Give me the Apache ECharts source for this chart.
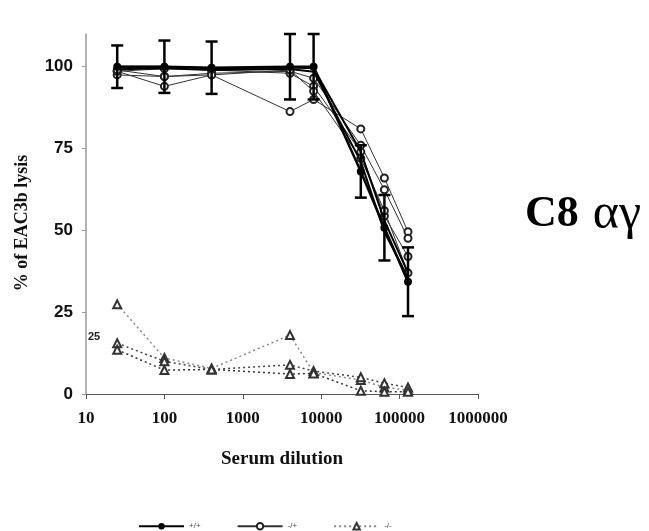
<!DOCTYPE html>
<html>
<head>
<meta charset="utf-8">
<script src="https://cdn.jsdelivr.net/npm/echarts@6/dist/echarts.min.js"></script>
<style>
  html, body { margin: 0; padding: 0; background: #fff; }
  #chart { width: 649px; height: 531px; }
</style>
</head>
<body>
<div id="chart"></div>
<script>
// serum dilutions (log axis)
const dilutions = [25, 100, 400, 4000, 8000, 32000, 64000, 128000];
const yTicks = [0, 25, 50, 75, 100];

// +/+ mean with error bars
const wtMean = [100, 100, 99.7, 100, 100, 68, 50.8, 34.3];
const wtErr = [6.5, 8, 8, 10, 10, 8, 10, 10.5];
// +/+ individual animals
const wtA = [100, 100, 99.5, 99.8, 99.5, 74, 53, 37];
const wtB = [99.2, 99.5, 99, 99.3, 98.5, 71, 49.5, 35.5];

// -/+ animals
const hetA = [98.6, 94, 97.5, 86.3, 90, 81, 66, 49.6];
const hetB = [97.5, 97, 98, 98.6, 96.5, 76, 62.4, 47.6];
const hetC = [98.6, 99.4, 99, 98, 94, 74, 54.4, 42];
const hetD = [99, 97, 97.5, 99, 92.5, 72, 56, 37];

// -/- animals
const koA = [27.4, 11, 7.8, 18, 6.5, 4.3, 2, 1.2];
const koB = [15.5, 10, 7.5, 8.9, 7, 5.1, 3.3, 2];
const koC = [13.5, 7.3, 7.5, 6.1, 6.3, 1.0, 0.7, 0.7];

function pairs(vals) {
  return dilutions.map((d, i) => [d, vals[i]]);
}

function wtLine(vals, width, size) {
  return {
    name: '+/+', type: 'line', data: pairs(vals), symbol: 'circle', symbolSize: size,
    itemStyle: { color: '#000' }, lineStyle: { color: '#000', width: width }, z: 5
  };
}
function hetLine(vals) {
  return {
    name: '-/+', type: 'line', data: pairs(vals), symbol: 'emptyCircle', symbolSize: 7,
    itemStyle: { color: '#222', borderWidth: 1 },
    lineStyle: { color: '#333', width: 1 }, z: 4
  };
}
function koLine(vals, color) {
  return {
    name: '-/-', type: 'line', data: pairs(vals), symbol: 'emptyTriangle', symbolSize: 8,
    itemStyle: { color: '#333', borderWidth: 1 },
    lineStyle: { color: color, width: 1.5, type: [2, 3] }, z: 3
  };
}

const chart = echarts.init(document.getElementById('chart'));
const serif = 'Liberation Serif, Times New Roman, serif';
const sans = 'Liberation Sans, Arial, sans-serif';

chart.setOption({
  animation: false,
  backgroundColor: '#fff',
  grid: { left: 86, right: 171, top: 34, bottom: 137 },
  xAxis: {
    type: 'log', logBase: 10, min: 10, max: 1000000,
    name: 'Serum dilution', nameLocation: 'middle', nameGap: 56,
    nameTextStyle: { fontFamily: serif, fontWeight: 'bold', fontSize: 19, color: '#111' },
    axisLine: { lineStyle: { color: '#555', width: 1 } },
    axisTick: { show: true, length: 5, inside: false, lineStyle: { color: '#555' } },
    minorTick: { show: false },
    splitLine: { show: false },
    axisLabel: {
      margin: 16, fontFamily: serif, fontWeight: 'bold', fontSize: 17, color: '#111',
      formatter: v => String(Math.round(v))
    }
  },
  yAxis: {
    type: 'value', min: 0, max: 110,
    axisLine: { show: true, lineStyle: { color: '#999', width: 1.5 } },
    axisTick: { show: true, length: 4, customValues: yTicks, lineStyle: { color: '#999' } },
    splitLine: { show: false },
    axisLabel: {
      customValues: yTicks, margin: 13, fontFamily: sans, fontWeight: 'bold', fontSize: 17, color: '#111'
    }
  },
  legend: {
    data: ['+/+', '-/+', '-/-'],
    left: 133, top: 517, itemWidth: 45, itemHeight: 8, itemGap: 36,
    textStyle: { fontFamily: sans, fontSize: 8, color: '#444' }
  },
  graphic: [
    {
      type: 'text', left: 525, top: 190,
      style: {
        text: '{b|C8}{n|αγ}',
        rich: {
          b: { fontFamily: serif, fontWeight: 'bold', fontSize: 44, fill: '#000' },
          n: { fontFamily: serif, fontWeight: 'normal', fontSize: 50, fill: '#000', padding: [0, 0, 0, 14] }
        }
      }
    },
    {
      type: 'text', x: 22, y: 223, rotation: Math.PI / 2,
      style: {
        text: '% of EAC3b lysis', fontFamily: serif, fontWeight: 'bold', fontSize: 18,
        fill: '#111', align: 'center', verticalAlign: 'middle'
      }
    },
    {
      type: 'text', left: 88, top: 331,
      style: { text: '25', fontFamily: sans, fontWeight: 'bold', fontSize: 11, fill: '#222' }
    }
  ],
  series: [
    koLine(koA, '#888'),
    koLine(koB, '#444'),
    koLine(koC, '#333'),
    hetLine(hetA),
    hetLine(hetB),
    hetLine(hetC),
    hetLine(hetD),
    wtLine(wtA, 2, 0),
    wtLine(wtB, 2, 0),
    wtLine(wtMean, 2.5, 8),
    {
      name: '+/+', type: 'custom', z: 6,
      data: dilutions.map((d, i) => [d, wtMean[i] - wtErr[i], wtMean[i] + wtErr[i]]),
      renderItem: function (params, api) {
        const lo = api.coord([api.value(0), api.value(1)]);
        const hi = api.coord([api.value(0), api.value(2)]);
        const w = 6;
        const st = { stroke: '#000', lineWidth: 2.5 };
        return {
          type: 'group',
          children: [
            { type: 'line', shape: { x1: lo[0], y1: lo[1], x2: hi[0], y2: hi[1] }, style: st },
            { type: 'line', shape: { x1: lo[0] - w, y1: lo[1], x2: lo[0] + w, y2: lo[1] }, style: st },
            { type: 'line', shape: { x1: hi[0] - w, y1: hi[1], x2: hi[0] + w, y2: hi[1] }, style: st }
          ]
        };
      }
    }
  ]
});
</script>
</body>
</html>
